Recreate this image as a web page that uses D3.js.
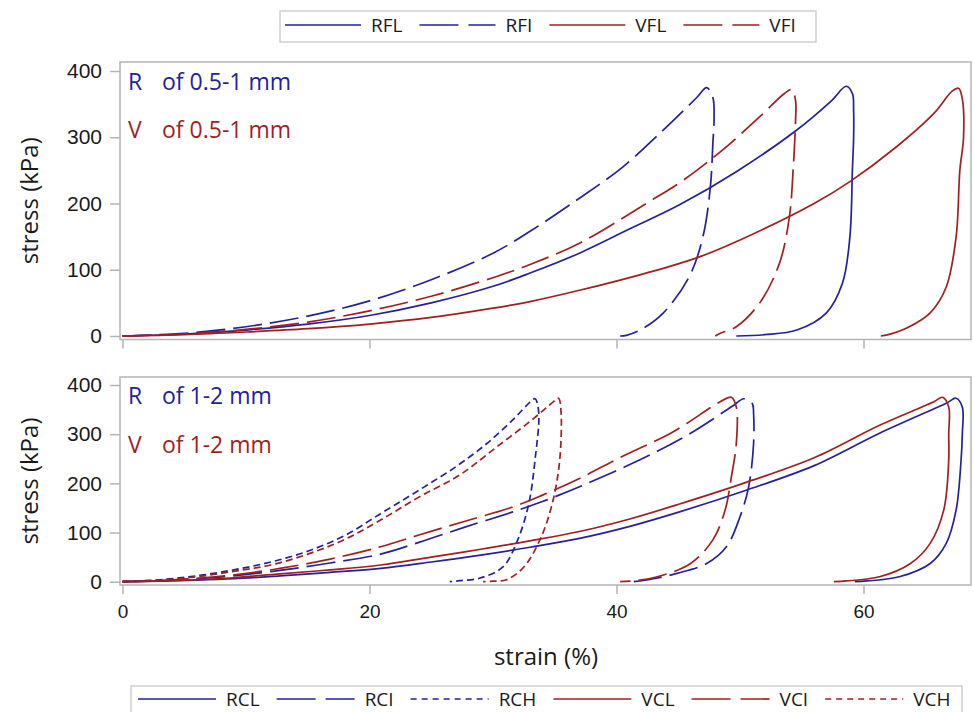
<!DOCTYPE html>
<html>
<head>
<meta charset="utf-8">
<script src="https://cdn.jsdelivr.net/npm/d3@7/dist/d3.min.js"></script>
<style>
  body { margin: 0; background: #fff; }
</style>
</head>
<body>
<div id="chart"></div>
<script>
// tick values
const strainTicks = [0, 20, 40, 60]
const stressTicks = [0, 100, 200, 300, 400]

// legend / annotation labels
const topLegend = ['RFL', 'RFI', 'VFL', 'VFI']
const bottomLegend = ['RCL', 'RCI', 'RCH', 'VCL', 'VCI', 'VCH']
const topNotes = [['R', 'of 0.5-1 mm'], ['V', 'of 0.5-1 mm']]
const bottomNotes = [['R', 'of 1-2 mm'], ['V', 'of 1-2 mm']]

// [strain (%), stress (kPa)], loading then unloading
const RFL = [[0,0],[5,3],[10,9],[15,18],[20,31],[25,50],[30,75],[33,95],[37,125],[41,161],[45.1,198],[49.7,248],[54.6,311],[57.4,355],[58.6,377],[59.1,366],[59.2,340],[59.2,300],[59.1,250],[58.9,150],[58.3,80],[57.0,35],[54.6,9],[52,2],[49.7,0]]
const RFI = [[0,0],[5,4],[10,14],[15,30],[20,53],[25,85],[30,125],[33,158],[37,208],[40.5,255],[43.8,311],[46.5,360],[47.3,375],[47.8,360],[47.9,330],[47.8,290],[47.6,225],[47.0,150],[45.9,90],[43.8,35],[42.0,10],[40.8,1],[40.3,0]]
const VFL = [[0,0],[5,2],[10,6],[15,11],[20,18],[25,28],[30,42],[33,52],[37,69],[42.4,95],[46.5,118],[50,145],[56,200],[58.9,233],[62.7,286],[65.7,336],[67.2,370],[67.7,374],[68.0,358],[68.1,300],[67.8,250],[67.5,150],[66.7,74],[65.4,35],[63.5,12],[62,2],[61.4,0]]
const VFI = [[0,0],[5,3],[10,10],[15,21],[20,38],[25,60],[30,88],[33,108],[37,140],[42.4,200],[45.4,235],[48.6,281],[51.6,331],[53.6,366],[54.2,372],[54.5,355],[54.5,326],[54.3,250],[54.0,180],[53.2,110],[51.6,50],[49.7,14],[48.4,4],[48.0,0]]

const RCL = [[0,0],[3,1],[6,3],[9,6],[12.75,12],[16.8,19],[20.9,27],[25,40],[29,54],[33,70],[37,88],[41,112],[45.1,142],[50.5,186],[56,236],[61.3,302],[66.7,363],[67.5,373],[68.0,355],[68.0,300],[67.9,247],[67.5,146],[66.7,78],[65.4,37],[62.9,10],[60.3,1.5],[59.3,0]]
const RCI = [[0,0],[3,2],[6,6],[9,12],[12.75,23],[16.8,38],[20.9,56],[24,80],[27.6,110],[31.6,142],[34,163],[37,193],[42.4,254],[46,302],[49.5,359],[50.3,372],[51.0,362],[51.1,342],[51.1,281],[50.7,193],[50.0,132],[48.9,71],[47.3,37],[44.9,17],[43,6],[41.4,0]]
const RCH = [[0,0],[3,4],[6,12],[9,24],[12,40],[15,62],[18,94],[21,140],[24,186],[27,234],[29.5,281],[31.6,329],[33.0,365],[33.4,372],[33.7,345],[33.4,247],[32.9,159],[32.0,85],[30.8,30],[28.9,7],[27.3,2],[26.5,0]]
const VCL = [[0,0],[3,1.5],[6,4],[9,8],[12.75,16],[16.8,24],[20.9,34],[25,50],[29,66],[33,83],[37,102],[41,127],[45.1,158],[50.5,202],[56,252],[61.3,318],[65.7,366],[66.4,375],[66.9,355],[66.9,300],[66.9,247],[66.5,146],[65.4,78],[63.8,37],[61.3,10],[58.6,1.5],[57.6,0]]
const VCI = [[0,0],[3,2],[6,7],[9,14],[12.75,27],[16.8,46],[20.9,71],[24,95],[27.6,122],[31.6,152],[34,176],[37,210],[40.5,255],[44.6,305],[48.4,366],[49.3,375],[49.7,355],[49.7,281],[49.3,213],[48.8,146],[47.8,85],[46.0,37],[43.3,10],[41.5,2],[40.3,0]]
const VCH = [[0,0],[3,3],[6,10],[9,21],[12,34],[15,56],[18,86],[21,127],[24,172],[27.3,217],[30.3,274],[33.3,332],[34.8,364],[35.3,373],[35.5,349],[35.4,247],[34.8,159],[33.8,85],[32.5,30],[31.1,4],[30,1],[29.2,0]]

const seriesData = { RFL, RFI, VFL, VFI, RCL, RCI, RCH, VCL, VCI, VCH }

const BLUE = '#22229c'
const RED = '#a11f1f'
const FRAME = '#b4b4b4'
const TITLE_FONT = '"Open Sans", "Noto Sans", sans-serif'
const TICK_FONT = '"Liberation Sans", Arial, sans-serif'

// style from the series name: R/V -> colour, L/I/H -> dash
function colorOf(name) { return name[0] === 'R' ? BLUE : RED }
function dashOf(name, legend) {
  const k = name[name.length - 1]
  if (k === 'I') return legend ? '39,10' : '29,8'
  if (k === 'H') return legend ? '6,5' : '7,4'
  return null
}

const width = 974, height = 712
const svg = d3.select('#chart').append('svg')
  .attr('width', width).attr('height', height)
  .style('font-family', TITLE_FONT)

const x = d3.scaleLinear().domain([0, 60]).range([122.5, 863.5])
const frameX = [120, 971]

const panels = [
  { names: topLegend, notes: topNotes, yRange: [336, 71], frame: [62, 339.5], labels: false, noteY: [90, 138] },
  { names: bottomLegend, notes: bottomNotes, yRange: [581.7, 385], frame: [377, 585], labels: true, noteY: [404, 453] },
]

const line = d3.line().curve(d3.curveCatmullRom.alpha(0.5))

panels.forEach(p => {
  const y = d3.scaleLinear().domain([0, 400]).range(p.yRange)
  const g = svg.append('g')

  // frame
  g.append('rect')
    .attr('x', frameX[0]).attr('y', p.frame[0])
    .attr('width', frameX[1] - frameX[0]).attr('height', p.frame[1] - p.frame[0])
    .attr('fill', 'none').attr('stroke', FRAME).attr('stroke-width', 1.5)

  // y axis
  const ya = g.append('g')
    .attr('transform', `translate(${frameX[0]},0)`)
    .call(d3.axisLeft(y).tickValues(stressTicks).tickSize(10).tickPadding(8))
  ya.select('.domain').remove()
  ya.selectAll('line').attr('stroke', FRAME).attr('stroke-width', 1.5)
  ya.selectAll('text').attr('font-family', TICK_FONT).attr('font-size', 21).attr('fill', '#1a1a1a')

  // x axis
  const xa = g.append('g')
    .attr('transform', `translate(0,${p.frame[1]})`)
    .call(d3.axisBottom(x).tickValues(strainTicks).tickSize(9).tickPadding(11)
      .tickFormat(p.labels ? d3.format('d') : ''))
  xa.select('.domain').remove()
  xa.selectAll('line').attr('stroke', FRAME).attr('stroke-width', 1.5)
  xa.selectAll('text').attr('font-family', TICK_FONT).attr('font-size', 19).attr('fill', '#1a1a1a')

  // y title
  g.append('text')
    .attr('transform', `translate(38,${(p.frame[0] + p.frame[1]) / 2}) rotate(-90)`)
    .attr('text-anchor', 'middle')
    .attr('font-size', 24).attr('fill', '#1a1a1a')
    .text('stress (kPa)')

  // curves
  p.names.forEach(name => {
    g.append('path')
      .datum(seriesData[name].map(d => [x(d[0]), y(d[1])]))
      .attr('d', line)
      .attr('fill', 'none')
      .attr('stroke', colorOf(name))
      .attr('stroke-width', 1.7)
      .attr('stroke-dasharray', dashOf(name, false))
  })

  // annotations
  p.notes.forEach((n, i) => {
    const c = i === 0 ? BLUE : RED
    g.append('text').attr('x', 128).attr('y', p.noteY[i]).attr('font-size', 23).attr('fill', c).text(n[0])
    g.append('text').attr('x', 162).attr('y', p.noteY[i]).attr('font-size', 23).attr('fill', c).text(n[1])
  })
})

// legends
function drawLegend(names, box, lineY, textY, startX, lineLen) {
  const lg = svg.append('g')
  lg.append('rect')
    .attr('x', box[0]).attr('y', box[1]).attr('width', box[2]).attr('height', box[3])
    .attr('fill', 'none').attr('stroke', '#cfcfcf').attr('stroke-width', 1.5)
  let cx = startX
  names.forEach(name => {
    lg.append('line')
      .attr('x1', cx).attr('x2', cx + lineLen).attr('y1', lineY).attr('y2', lineY)
      .attr('stroke', colorOf(name)).attr('stroke-width', 1.7)
      .attr('stroke-dasharray', dashOf(name, true))
    cx += lineLen + 10
    const t = lg.append('text').attr('x', cx).attr('y', textY)
      .attr('font-size', 19).attr('fill', '#1a1a1a').text(name)
    cx += t.node().getComputedTextLength() + 17
  })
}
drawLegend(topLegend, [280, 11, 536, 31], 25, 32, 285, 76)
drawLegend(bottomLegend, [131, 686, 831, 34], 699, 706, 138, 78)

// x title
svg.append('text')
  .attr('x', 546).attr('y', 665)
  .attr('text-anchor', 'middle')
  .attr('font-size', 24).attr('fill', '#1a1a1a')
  .text('strain (%)')
</script>
</body>
</html>
